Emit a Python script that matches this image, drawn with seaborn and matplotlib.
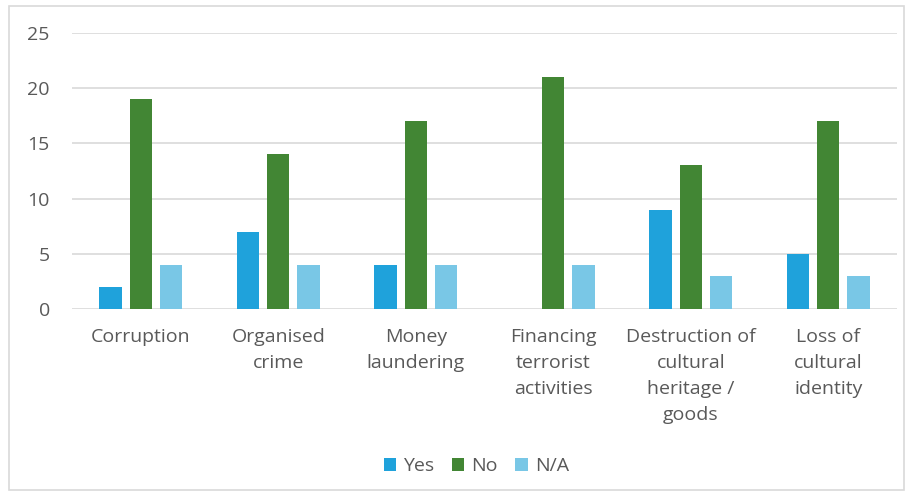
import pandas as pd
import seaborn as sns
import matplotlib.pyplot as plt
from matplotlib.patches import Rectangle

#--Data--#
categories = ['Corruption', 'Organised\ncrime', 'Money\nlaundering',
              'Financing\nterrorist\nactivities', 'Destruction of\ncultural\nheritage /\ngoods',
              'Loss of\ncultural\nidentity']
yes_vals = [2, 7, 4, 0, 9, 5]
no_vals = [19, 14, 17, 21, 13, 17]
na_vals = [4, 4, 4, 4, 3, 3]
series = ['Yes', 'No', 'N/A']
colors = ['#1FA2DB', '#428634', '#79C7E6']

df = pd.DataFrame({'category': categories * 3,
                   'answer': [s for s in series for _ in categories],
                   'count': yes_vals + no_vals + na_vals})

sns.set_style('white')
plt.rcParams['font.family'] = ['Open Sans', 'DejaVu Sans']

fig = plt.figure(figsize=(9.11, 4.95), dpi=100)
ax = fig.add_axes([72 / 911, 186 / 495, 825 / 911, 276 / 495])

sns.barplot(data=df, x='category', y='count', hue='answer', hue_order=series,
            palette=colors, saturation=1, width=0.66, gap=0.27, ax=ax,
            legend=True, order=categories, edgecolor='none')

ax.set_ylim(0, 25)
ax.set_yticks(range(0, 26, 5))
ax.yaxis.grid(True, color='#D9D9D9', linewidth=1.2)
ax.set_axisbelow(True)
for s in ax.spines.values():
    s.set_visible(False)
ax.set_xlabel('')
ax.set_ylabel('')
ax.tick_params(axis='both', length=0, labelsize=14, colors='#595959')
ax.tick_params(axis='x', pad=14)
ax.tick_params(axis='y', pad=16)
for lbl in ax.get_xticklabels():
    lbl.set_linespacing(1.55)
ax.set_xlim(-0.5, 5.5)

ax.legend(loc='center', bbox_to_anchor=(0.49, -0.57), ncol=3, frameon=False,
          fontsize=14, labelcolor='#595959', handlelength=0.65, handleheight=0.65,
          handletextpad=0.35, columnspacing=0.9)

#--Outer border--#
fig.patches.append(Rectangle((9 / 911, 5 / 495), 895 / 911, 484 / 495,
                             transform=fig.transFigure, fill=False,
                             edgecolor='#D9D9D9', linewidth=1.2))

plt.savefig('out.png', dpi=100)
